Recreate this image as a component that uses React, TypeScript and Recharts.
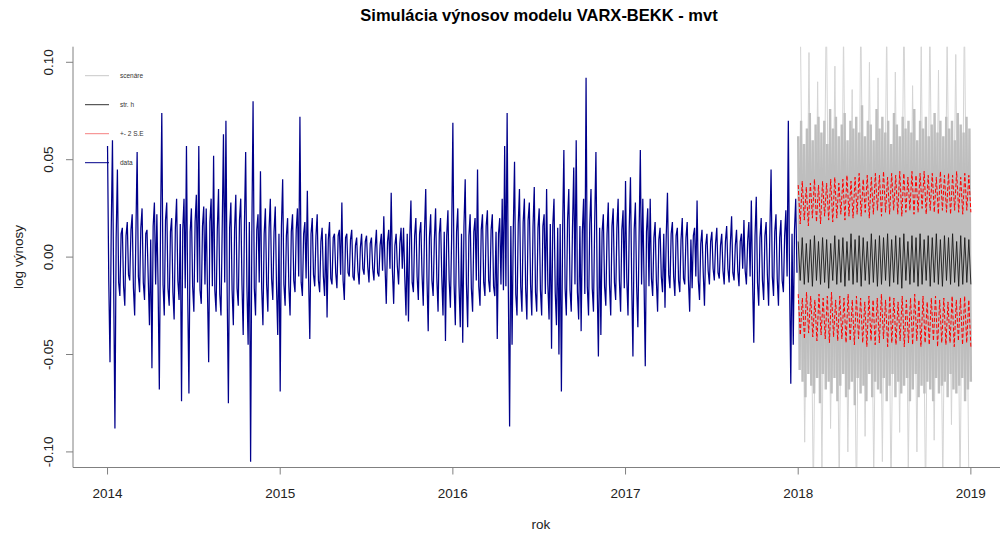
import { ComposedChart, Line, XAxis, YAxis } from "recharts";

// log returns 2014-2017 (thousandths)
const dataVals = [
  57, -12, -54, 14, 60, -16, -88, 10, 45, -13, -20, 12, 15, -15, -25, 11, 18, -9, -12, 14, 22, -16, -30, 12, 54, -10, -18, 15, 25, -13, -22, 12, 14, -11, -35, 9, -57, 16, 28, -14,
  22, -15, -68, 17, 74, -14, -30, 19, 28, -16, -25, 13, 20, -18, -32, 15, 30, -12, -22, 17, -74, 14, 30, -16, 57, -19, -70, 13, 25, -15, -28, 18, 32, -13, 57, -17, -24, 16, 26, -14,
  25, -16, -54, 18, 30, -15, 52, -17, -28, 14, 35, -19, -30, 16, 63, -13, 70, -18, -75, 15, 28, -17, -35, 14, 32, -16, -25, 19, 30, -14, -40, 17, 54, -15, -45, 18, -105, 12, 80, -16,
  -30, 14, 22, -13, 44, -16, -35, 12, 25, -14, -28, 15, 30, -11, -22, 13, 26, -15, -40, 12, -69, 16, 40, -14, -25, 11, 20, -15, -30, 13, 22, -12, -18, 14, 25, -10, 72, -13, -20, 12,
  18, -11, 34, -10, -42, 12, 20, -9, -15, 11, 22, -12, -18, 8, 15, -10, -20, 12, -31, 9, 18, -11, -14, 10, 12, -8, -16, 11, 14, -9, 28, -12, -22, 10, 12, -8, -10, 9, 14, -10,
  -12, 6, 10, -7, -14, 5, 12, -6, -9, 8, 11, -5, -13, 7, 10, -6, -12, 5, 14, -8, -10, 6, 12, -7, 21, -5, -24, 8, 14, -6, 33, -7, -24, 6, 12, -5, -14, 7, 15, -6,
  15, -10, -30, 12, -33, 9, 29, -13, -18, 11, 20, -10, -22, 12, 18, -9, -25, 13, 35, -11, -38, 10, 22, -12, -20, 9, 25, -11, -28, 12, 20, -10, -30, 13, -43, 11, 24, -12, -26, 10,
  69, -14, -35, 13, 25, -15, -36, 12, -44, 16, 40, -14, -36, 11, 22, -16, -28, 13, 20, -12, 45, -15, -25, 14, 22, -13, -20, 16, 24, -12, -18, 14, 22, -15, -20, 13, -42, 12, 20, -14,
  30, -17, 57, -15, 74, -18, -87, 16, -45, 14, 49, -19, -30, 17, 35, -15, -28, 18, 30, -16, -32, 19, 28, -14, -30, 16, 36, -18, -28, 15, 25, -17, -30, 16, 22, -19, 35, -14, -32, 17,
  -47, 16, 30, -18, -35, 15, -50, 17, -69, 14, 55, -16, -30, 19, 35, -17, -28, 15, 46, -14, 60, -18, -32, 16, -38, 13, 30, -19, 92, -15, -30, 17, 35, -16, -28, 18, 54, -14, -51, 15,
  -40, 13, 22, -15, -25, 12, 28, -14, -30, 16, 25, -13, -22, 15, 30, -12, -28, 14, 24, -16, 39, -11, -30, 15, 41, -13, -51, 14, 28, -15, -36, 12, 55, -14, 30, -12, -56, 13, 25, -15,
  30, -11, -20, 10, 18, -12, -28, 9, 15, -10, -18, 12, -26, 11, 33, -9, -16, 12, 18, -10, -20, 11, 15, -12, -18, 9, 20, -11, -14, 10, 18, -12, -28, 9, -16, 11, 15, -10, 29, -12,
  -22, 7, 14, -8, -25, 6, 12, -7, -14, 8, 13, -6, -12, 7, 15, -8, -11, 6, 12, -7, -14, 8, 16, -6, -13, 7, 21, -8, -12, 6, 14, -7, -15, 8, 12, -6, 19, -7, -14, 8,
  18, -10, 29, -12, -44, 11, 31, -13, -25, 10, 20, -12, -22, 11, 18, -9, -25, 12, 45, -10, -20, 13, 22, -11, -25, 10, 19, -12, -18, 11, 24, -10, 70, -13, -65, 12, -45, 14, 30, -8,
];

// simulated scenarios for 2018 (dense core and the outer spikes)
const scenCore = [
  62, -58, 70, -64, 58, -72, 66, -60, 74, -66, 60, -70, 68, -62, 72, -75, 64, -60, 70, -68,
  58, -64, 76, -70, 66, -62, 72, -74, 62, -66, 68, -60, 74, -72, 60, -68, 70, -64, 66, -76,
  72, -62, 64, -70, 78, -66, 62, -74, 70, -60, 68, -72, 60, -64, 76, -68, 66, -70, 72, -62,
  64, -74, 70, -66, 58, -60, 74, -72, 68, -64, 62, -70, 72, -66, 66, -62, 70, -74, 64, -68,
  76, -60, 60, -72, 70, -66, 66, -70, 72, -64, 62, -68, 68, -74, 74, -62, 64, -70, 70, -66,
  62, -64, 72, -72, 66, -60, 70, -68, 60, -70, 74, -66, 68, -62, 64, -74, 72, -68, 66, -64,
];
const scenSpikes = [
  120, -95, 105, -125, 90, -110, 130, -88, 98, -120, 115, -100, 86, -130, 125, -92, 100, -115, 92, -105,
  118, -125, 95, -90, 128, -112, 88, -100, 110, -128, 122, -94, 96, -118, 114, -86, 104, -122, 126, -108,
];

// str. h and +- 2 S.E
const meanVals = [
  8, -12, 10, -14, 7, -13, 9, -15, 11, -12, 8, -14, 10, -13, 9, -16, 7, -12, 11, -14, 9, -13,
  10, -15, 8, -12, 12, -14, 9, -13, 11, -15, 10, -12, 8, -14, 12, -13, 9, -15, 11, -14,
  10, -12, 12, -15, 9, -13, 11, -14, 10, -16, 12, -12, 8, -14, 11, -13, 10, -15, 12, -14, 9, -12,
  11, -15, 10, -13, 12, -14, 9, -15, 11, -12, 10, -14, 12, -13, 8, -15, 11, -14, 10, -13, 9, -14,
];
const upperVals = [
  37, 17, 39, 19, 36, 16, 38, 20, 40, 18, 37, 17, 39, 21, 38, 19, 40, 18, 41, 20, 38, 22,
  40, 19, 42, 21, 39, 20, 41, 22, 43, 21, 40, 23, 42, 20, 41, 22, 43, 24, 42, 21,
  44, 23, 41, 22, 43, 24, 42, 22, 44, 21, 43, 23, 41, 24, 44, 22, 42, 23, 43, 25, 44, 22,
  42, 24, 43, 23, 41, 22, 44, 24, 42, 23, 43, 22, 42, 24, 44, 23, 41, 22, 43, 24, 42, 23,
];
const lowerVals = [
  -19, -40, -21, -42, -18, -39, -20, -41, -22, -43, -19, -40, -21, -42, -20, -44, -18, -41, -22, -43, -20, -42,
  -21, -44, -19, -43, -22, -45, -20, -42, -21, -44, -23, -46, -20, -43, -22, -45, -21, -44, -19, -42,
  -22, -46, -20, -44, -21, -45, -23, -43, -20, -46, -22, -44, -21, -45, -19, -43, -22, -46, -20, -44,
  -23, -45, -21, -43, -20, -46, -22, -44, -21, -45, -23, -44, -20, -46, -22, -43, -21, -45, -20, -44, -22, -46,
];

const xTicks = [2014, 2015, 2016, 2017, 2018, 2019];
const yTicks = [-0.1, -0.05, 0, 0.05, 0.1];

const legendItems = [
  { label: "scenáre", color: "#c8c8c8" },
  { label: "str. h", color: "#333333" },
  { label: "+- 2 S.E", color: "#f58080" },
  { label: "data", color: "#00008b" },
];

const toPoints = (vals: number[], start: number, span: number, mid = false) =>
  vals.map((v, i) => ({
    x: start + (mid ? (i + 0.5) / vals.length : i / (vals.length - 1)) * span,
    v: v / 1000,
  }));

const dataPts = dataVals.map((v, i) => ({ x: 2014 + (i * 4) / dataVals.length, v: v / 1000 }));
const corePts = toPoints(scenCore, 2018, 1);
const spikePts = toPoints(scenSpikes, 2018, 1, true);
const meanPts = toPoints(meanVals, 2018, 1);
const upperPts = toPoints(upperVals, 2018, 1);
const lowerPts = toPoints(lowerVals, 2018, 1);

const font = "'Liberation Sans', Arial, sans-serif";
const frame = "#808080";

const YTick = (props: any) => {
  const { x, y, payload } = props;
  return (
    <text
      x={x}
      y={y}
      transform={`rotate(-90 ${x} ${y})`}
      textAnchor="middle"
      dominantBaseline="central"
      fontSize={13.5}
      fontFamily={font}
      fill="#222"
    >
      {payload.value.toFixed(2)}
    </text>
  );
};

export default function App() {
  return (
    <div
      style={{
        position: "absolute",
        left: 0,
        top: 0,
        width: 1000,
        height: 535,
        overflow: "hidden",
        background: "#fff",
      }}
    >
      <ComposedChart
        width={1010}
        height={535}
        margin={{ top: 46.7, right: 4.6, bottom: 27.5, left: 0 }}
      >
        <XAxis
          xAxisId="b"
          dataKey="x"
          type="number"
          domain={[2013.8, 2019.2]}
          allowDataOverflow
          ticks={xTicks}
          interval={0}
          height={40}
          tickSize={7}
          tickMargin={14}
          stroke={frame}
          tick={{ fill: "#222", fontSize: 13.5, fontFamily: font }}
        />
        <XAxis
          xAxisId="t"
          orientation="top"
          dataKey="x"
          type="number"
          domain={[2013.8, 2019.2]}
          height={0}
          tick={false}
          tickLine={false}
          stroke={frame}
        />
        <YAxis
          yAxisId="l"
          type="number"
          domain={[-0.108, 0.108]}
          allowDataOverflow
          ticks={yTicks}
          interval={0}
          width={73}
          tickSize={7}
          tickMargin={17}
          stroke={frame}
          tick={<YTick />}
        />
        <YAxis
          yAxisId="r"
          orientation="right"
          type="number"
          domain={[-0.108, 0.108]}
          width={0}
          tick={false}
          tickLine={false}
          stroke={frame}
        />
        <Line
          xAxisId="b"
          yAxisId="l"
          data={spikePts}
          dataKey="v"
          stroke="#d4d4d4"
          strokeWidth={1}
          dot={false}
          isAnimationActive={false}
        />
        <Line
          xAxisId="b"
          yAxisId="l"
          data={corePts}
          dataKey="v"
          stroke="#bebebe"
          strokeWidth={2.4}
          dot={false}
          isAnimationActive={false}
        />
        <Line
          xAxisId="b"
          yAxisId="l"
          data={meanPts}
          dataKey="v"
          stroke="#1a1a1a"
          strokeWidth={0.9}
          dot={false}
          isAnimationActive={false}
        />
        <Line
          xAxisId="b"
          yAxisId="l"
          data={upperPts}
          dataKey="v"
          stroke="#ff0000"
          strokeWidth={1}
          strokeDasharray="4 2"
          dot={false}
          isAnimationActive={false}
        />
        <Line
          xAxisId="b"
          yAxisId="l"
          data={lowerPts}
          dataKey="v"
          stroke="#ff0000"
          strokeWidth={1}
          strokeDasharray="4 2"
          dot={false}
          isAnimationActive={false}
        />
        <Line
          xAxisId="b"
          yAxisId="l"
          data={dataPts}
          dataKey="v"
          stroke="#00008b"
          strokeWidth={1.25}
          dot={false}
          isAnimationActive={false}
        />

        <text x={539} y={21} textAnchor="middle" fontSize={16.5} fontWeight="bold" fontFamily={font} fill="#000">
          Simulácia výnosov modelu VARX-BEKK - mvt
        </text>
        <text x={541} y={529} textAnchor="middle" fontSize={13.5} fontFamily={font} fill="#222">
          rok
        </text>
        <text
          x={18}
          y={257}
          transform="rotate(-90 18 257)"
          textAnchor="middle"
          dominantBaseline="central"
          fontSize={13.5}
          fontFamily={font}
          fill="#222"
        >
          log výnosy
        </text>
        {legendItems.map((it, i) => (
          <g key={it.label}>
            <line x1={85} x2={109} y1={75.7 + i * 29} y2={75.7 + i * 29} stroke={it.color} strokeWidth={1} />
            <text x={120} y={75.7 + i * 29} dominantBaseline="central" fontSize={6.5} fontFamily={font} fill="#333">
              {it.label}
            </text>
          </g>
        ))}
      </ComposedChart>
    </div>
  );
}
